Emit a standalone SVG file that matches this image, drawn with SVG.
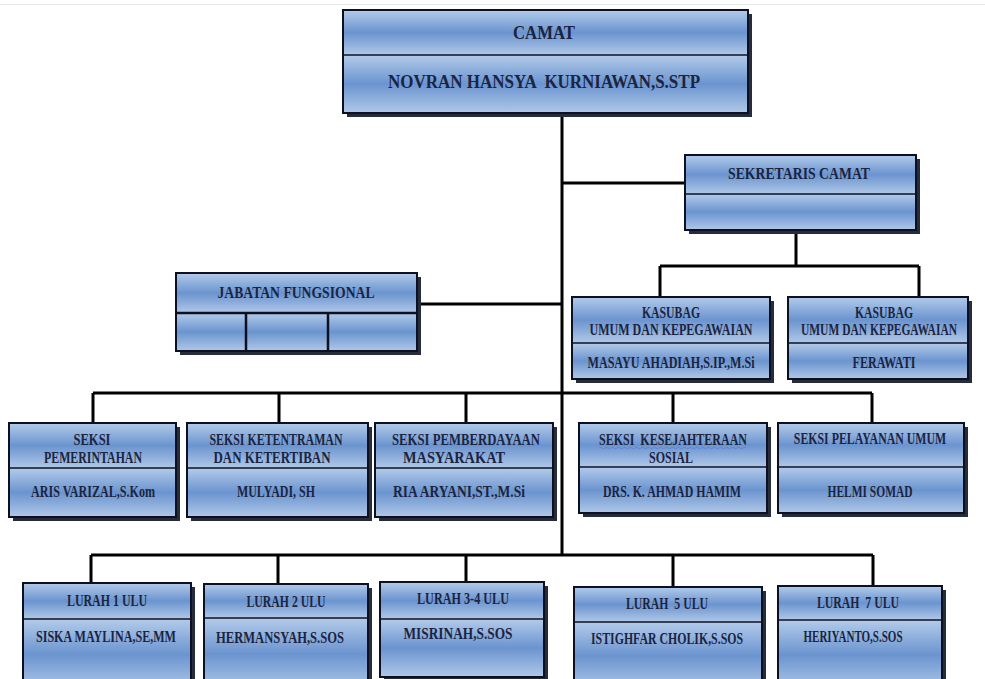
<svg xmlns="http://www.w3.org/2000/svg" width="985" height="679" viewBox="0 0 985 679">
<defs>
<linearGradient id="g" x1="0" y1="0" x2="0" y2="1">
<stop offset="0" stop-color="#b3cbea"/>
<stop offset="0.5" stop-color="#6b94cf"/>
<stop offset="1" stop-color="#b0c8e8"/>
</linearGradient>
</defs>
<style>
.sh{fill:#272c3b}
.sec{fill:url(#g)}
.ol{fill:none;stroke:#0c1020;stroke-width:2}
.dv{stroke:#0c1020;stroke-width:1.5}
.c{fill:none;stroke:#000;stroke-width:3}
text{font-family:"Liberation Serif","Times New Roman",serif;font-weight:bold;fill:#1b2440;text-anchor:middle;font-size:16px}
.big{font-size:19px}
</style>
<rect x="0" y="0" width="985" height="679" fill="#fff"/>
<line x1="0" y1="4.5" x2="985" y2="4.5" stroke="#e4e6ea" stroke-width="1"/>

<g id="connectors">
<path class="c" d="M562 115 V555"/>
<path class="c" d="M562 183 H685"/>
<path class="c" d="M417 304 H562"/>
<path class="c" d="M796 232 V266 M660 266 H919 M660 266 V297 M919 266 V297"/>
<path class="c" d="M93 393 H872 M93 393 V423 M279 393 V423 M466 393 V423 M673 393 V423 M872 393 V423"/>
<path class="c" d="M91 555 H873 M91 555 V583 M278 555 V584 M466 555 V582 M673 555 V587 M873 555 V586"/>
</g>

<g id="camat">
<rect class="sh" x="347" y="14" width="405" height="103"/>
<rect class="sec" x="343" y="10" width="405" height="45"/>
<rect class="sec" x="343" y="55" width="405" height="58"/>
<rect class="ol" x="343" y="10" width="405" height="103"/>
<line class="dv" x1="343" y1="55" x2="748" y2="55"/>
<text class="big" x="544" y="39" textLength="62" lengthAdjust="spacingAndGlyphs">CAMAT</text>
<text class="big" x="544" y="88" textLength="312" lengthAdjust="spacingAndGlyphs" xml:space="preserve">NOVRAN HANSYA  KURNIAWAN,S.STP</text>
</g>

<g id="sekretaris">
<rect class="sh" x="689" y="159" width="231" height="75"/>
<rect class="sec" x="685" y="155" width="231" height="39"/>
<rect class="sec" x="685" y="194" width="231" height="36"/>
<rect class="ol" x="685" y="155" width="231" height="75"/>
<line class="dv" x1="685" y1="194" x2="916" y2="194"/>
<text x="799" y="179" textLength="142" lengthAdjust="spacingAndGlyphs">SEKRETARIS CAMAT</text>
</g>

<g id="jabatan">
<rect class="sh" x="180" y="277" width="241" height="78"/>
<rect class="sec" x="176" y="273" width="241" height="40"/>
<rect class="sec" x="176" y="313" width="241" height="38"/>
<rect class="ol" x="176" y="273" width="241" height="78"/>
<path d="M176 313 H417 M246 313 V351 M328 313 V351" fill="none" stroke="#0c1020" stroke-width="2.5"/>
<text x="296" y="298" textLength="157" lengthAdjust="spacingAndGlyphs">JABATAN FUNGSIONAL</text>
</g>

<g id="kasubag1">
<rect class="sh" x="576" y="301" width="198" height="82"/>
<rect class="sec" x="572" y="297" width="198" height="46"/>
<rect class="sec" x="572" y="343" width="198" height="36"/>
<rect class="ol" x="572" y="297" width="198" height="82"/>
<line class="dv" x1="572" y1="343" x2="770" y2="343"/>
<text x="671" y="318" textLength="58" lengthAdjust="spacingAndGlyphs">KASUBAG</text>
<text x="671" y="335" textLength="163" lengthAdjust="spacingAndGlyphs">UMUM DAN KEPEGAWAIAN</text>
<text x="671" y="368" textLength="167" lengthAdjust="spacingAndGlyphs">MASAYU AHADIAH,S.IP.,M.Si</text>
</g>

<g id="kasubag2">
<rect class="sh" x="792" y="301" width="180" height="82"/>
<rect class="sec" x="788" y="297" width="180" height="46"/>
<rect class="sec" x="788" y="343" width="180" height="36"/>
<rect class="ol" x="788" y="297" width="180" height="82"/>
<line class="dv" x1="788" y1="343" x2="968" y2="343"/>
<text x="884" y="318" textLength="58" lengthAdjust="spacingAndGlyphs">KASUBAG</text>
<text transform="translate(879 335) scale(0.72 1)">UMUM DAN KEPEGAWAIAN</text>
<text x="884" y="368" textLength="63" lengthAdjust="spacingAndGlyphs">FERAWATI</text>
</g>

<g id="seksi1">
<rect class="sh" x="13" y="427" width="167" height="94"/>
<rect class="sec" x="9" y="423" width="167" height="45"/>
<rect class="sec" x="9" y="468" width="167" height="49"/>
<rect class="ol" x="9" y="423" width="167" height="94"/>
<line class="dv" x1="9" y1="468" x2="176" y2="468"/>
<text x="92" y="445" textLength="37" lengthAdjust="spacingAndGlyphs">SEKSI</text>
<text x="93" y="463" textLength="98" lengthAdjust="spacingAndGlyphs">PEMERINTAHAN</text>
<text x="93" y="497" textLength="124" lengthAdjust="spacingAndGlyphs">ARIS VARIZAL,S.Kom</text>
</g>

<g id="seksi2">
<rect class="sh" x="191" y="427" width="181" height="94"/>
<rect class="sec" x="187" y="423" width="181" height="45"/>
<rect class="sec" x="187" y="468" width="181" height="49"/>
<rect class="ol" x="187" y="423" width="181" height="94"/>
<line class="dv" x1="187" y1="468" x2="368" y2="468"/>
<text x="276" y="445" textLength="133" lengthAdjust="spacingAndGlyphs">SEKSI KETENTRAMAN</text>
<text x="272" y="463" textLength="117" lengthAdjust="spacingAndGlyphs">DAN KETERTIBAN</text>
<text x="276" y="497" textLength="78" lengthAdjust="spacingAndGlyphs">MULYADI, SH</text>
</g>

<g id="seksi3">
<rect class="sh" x="379" y="427" width="178" height="94"/>
<rect class="sec" x="375" y="423" width="178" height="45"/>
<rect class="sec" x="375" y="468" width="178" height="49"/>
<rect class="ol" x="375" y="423" width="178" height="94"/>
<line class="dv" x1="375" y1="468" x2="553" y2="468"/>
<text x="466" y="445" textLength="148" lengthAdjust="spacingAndGlyphs">SEKSI PEMBERDAYAAN</text>
<text x="454" y="463" textLength="102" lengthAdjust="spacingAndGlyphs">MASYARAKAT</text>
<text x="459" y="497" textLength="132" lengthAdjust="spacingAndGlyphs">RIA ARYANI,ST.,M.Si</text>
</g>

<g id="seksi4">
<rect class="sh" x="583" y="427" width="188" height="90"/>
<rect class="sec" x="579" y="423" width="188" height="44"/>
<rect class="sec" x="579" y="467" width="188" height="46"/>
<rect class="ol" x="579" y="423" width="188" height="90"/>
<line class="dv" x1="579" y1="467" x2="767" y2="467"/>
<text x="673" y="445" textLength="148" lengthAdjust="spacingAndGlyphs" xml:space="preserve">SEKSI  KESEJAHTERAAN</text>
<path d="M599 448 q1.5 -1.5 3 0 t3 0 t3 0 t3 0 t3 0 t3 0 t3 0 t3 0 t3 0 t3 0 t3 0 t3 0 t3 0 t3 0 t3 0 t3 0 t3 0 t3 0 t3 0 t3 0 t3 0 t3 0 t3 0 t3 0 t3 0 t3 0 t3 0 t3 0 t3 0 t3 0 t3 0 t3 0 t3 0 t3 0 t3 0 t3 0 t3 0 t3 0 t3 0 t3 0 t3 0 t3 0 t3 0 t3 0 t3 0 t3 0 t3 0 t3 0 t3 0" fill="none" stroke="#5b7fd6" stroke-width="0.8"/>
<text x="671" y="463" textLength="44" lengthAdjust="spacingAndGlyphs">SOSIAL</text>
<text x="672" y="497" textLength="138" lengthAdjust="spacingAndGlyphs">DRS. K. AHMAD HAMIM</text>
</g>

<g id="seksi5">
<rect class="sh" x="782" y="427" width="186" height="90"/>
<rect class="sec" x="778" y="423" width="186" height="44"/>
<rect class="sec" x="778" y="467" width="186" height="46"/>
<rect class="ol" x="778" y="423" width="186" height="90"/>
<line class="dv" x1="778" y1="467" x2="964" y2="467"/>
<text transform="translate(870 444) scale(0.74 1)">SEKSI PELAYANAN UMUM</text>
<text x="870" y="497" textLength="85" lengthAdjust="spacingAndGlyphs">HELMI SOMAD</text>
</g>

<g id="lurah1">
<rect class="sh" x="27" y="587" width="168" height="107"/>
<rect class="sec" x="23" y="583" width="168" height="36"/>
<rect class="sec" x="23" y="619" width="168" height="71"/>
<rect class="ol" x="23" y="583" width="168" height="107"/>
<line class="dv" x1="23" y1="619" x2="191" y2="619"/>
<text x="107" y="606" textLength="80" lengthAdjust="spacingAndGlyphs">LURAH 1 ULU</text>
<text x="106" y="642" textLength="140" lengthAdjust="spacingAndGlyphs">SISKA MAYLINA,SE,MM</text>
</g>

<g id="lurah2">
<rect class="sh" x="208" y="588" width="164" height="106"/>
<rect class="sec" x="204" y="584" width="164" height="34"/>
<rect class="sec" x="204" y="618" width="164" height="72"/>
<rect class="ol" x="204" y="584" width="164" height="106"/>
<line class="dv" x1="204" y1="618" x2="368" y2="618"/>
<text x="286" y="607" textLength="79" lengthAdjust="spacingAndGlyphs">LURAH 2 ULU</text>
<text x="280" y="643" textLength="128" lengthAdjust="spacingAndGlyphs">HERMANSYAH,S.SOS</text>
</g>

<g id="lurah34">
<rect class="sh" x="384" y="586" width="164" height="95"/>
<rect class="sec" x="380" y="582" width="164" height="37"/>
<rect class="sec" x="380" y="619" width="164" height="58"/>
<rect class="ol" x="380" y="582" width="164" height="95"/>
<line class="dv" x1="380" y1="619" x2="544" y2="619"/>
<text x="463" y="604" textLength="92" lengthAdjust="spacingAndGlyphs">LURAH 3-4 ULU</text>
<text x="458" y="639" textLength="109" lengthAdjust="spacingAndGlyphs">MISRINAH,S.SOS</text>
</g>

<g id="lurah5">
<rect class="sh" x="578" y="591" width="188" height="103"/>
<rect class="sec" x="574" y="587" width="188" height="35"/>
<rect class="sec" x="574" y="622" width="188" height="68"/>
<rect class="ol" x="574" y="587" width="188" height="103"/>
<line class="dv" x1="574" y1="622" x2="762" y2="622"/>
<text x="667" y="609" textLength="82" lengthAdjust="spacingAndGlyphs" xml:space="preserve">LURAH  5 ULU</text>
<text x="667" y="644" textLength="152" lengthAdjust="spacingAndGlyphs">ISTIGHFAR CHOLIK,S.SOS</text>
</g>

<g id="lurah7">
<rect class="sh" x="782" y="590" width="164" height="104"/>
<rect class="sec" x="778" y="586" width="164" height="34"/>
<rect class="sec" x="778" y="620" width="164" height="70"/>
<rect class="ol" x="778" y="586" width="164" height="104"/>
<line class="dv" x1="778" y1="620" x2="942" y2="620"/>
<text x="858" y="608" textLength="82" lengthAdjust="spacingAndGlyphs" xml:space="preserve">LURAH  7 ULU</text>
<text x="853" y="642" textLength="99" lengthAdjust="spacingAndGlyphs">HERIYANTO,S.SOS</text>
</g>
</svg>
